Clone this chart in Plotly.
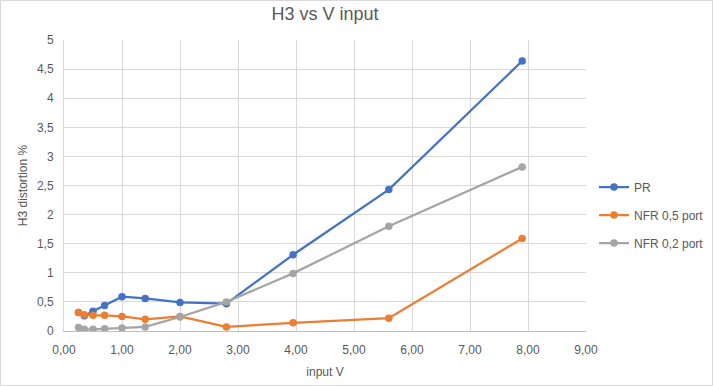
import plotly.graph_objects as go

x_vals = [0.25, 0.35, 0.5, 0.7, 1.0, 1.4, 2.0, 2.8, 3.95, 5.6, 7.9]
pr = [0.32, 0.26, 0.34, 0.44, 0.59, 0.56, 0.49, 0.47, 1.31, 2.43, 4.64]
nfr05 = [0.32, 0.28, 0.27, 0.27, 0.25, 0.20, 0.25, 0.07, 0.14, 0.22, 1.59]
nfr02 = [0.06, 0.03, 0.03, 0.04, 0.05, 0.07, 0.24, 0.50, 0.99, 1.80, 2.82]

series_names = ["PR", "NFR 0,5 port", "NFR 0,2 port"]
colors = ["#4472C4", "#ED7D31", "#A5A5A5"]

x_tickvals = [0, 1, 2, 3, 4, 5, 6, 7, 8, 9]
x_ticktext = ["0,00", "1,00", "2,00", "3,00", "4,00", "5,00", "6,00", "7,00", "8,00", "9,00"]
y_tickvals = [0, 0.5, 1, 1.5, 2, 2.5, 3, 3.5, 4, 4.5, 5]
y_ticktext = ["0", "0,5", "1", "1,5", "2", "2,5", "3", "3,5", "4", "4,5", "5"]

FONT = "Liberation Sans Narrow, Arial Narrow, sans-serif"
GREY = "#595959"

fig = go.Figure()
for name, ys, c in zip(series_names, [pr, nfr05, nfr02], colors):
    fig.add_trace(go.Scatter(
        x=x_vals, y=ys, name=name, mode="lines+markers",
        line=dict(color=c, width=2.25),
        marker=dict(color=c, size=7.5),
        legendgroup=name,
    ))

W, H = 713, 386
L, R, T, B = 64, 127, 40, 55
pw, ph = W - L - R, H - T - B

fig.update_layout(
    width=W, height=H,
    margin=dict(l=L, r=R, t=T, b=B, autoexpand=False),
    paper_bgcolor="white", plot_bgcolor="white",
    font=dict(family=FONT, size=12, color=GREY),
    title=dict(text="H3 vs V input", x=0.5, xref="paper", xanchor="center",
               y=1 - 14 / H, yanchor="middle",
               font=dict(family=FONT, size=18, color=GREY)),
    showlegend=True,
    legend=dict(x=(594 - L) / pw, y=(331 - 215) / ph, xanchor="left", yanchor="middle",
                font=dict(family=FONT, size=12, color=GREY),
                tracegroupgap=9, traceorder="grouped", bgcolor="rgba(0,0,0,0)"),
    xaxis=dict(range=[0, 9], tickvals=x_tickvals, ticktext=x_ticktext,
               showgrid=True, gridcolor="#D9D9D9", gridwidth=1,
               zeroline=False, showline=True, linecolor="#BFBFBF", linewidth=1,
               ticks="", automargin=False, ticklabelstandoff=8,
               title=dict(text="input V", font=dict(family=FONT, size=12, color=GREY), standoff=11),
               tickfont=dict(family=FONT, size=12, color=GREY)),
    yaxis=dict(range=[0, 5], tickvals=y_tickvals, ticktext=y_ticktext,
               showgrid=True, gridcolor="#D9D9D9", gridwidth=1,
               zeroline=False, showline=True, linecolor="#D9D9D9", linewidth=1,
               ticks="", automargin=False, ticklabelstandoff=7,
               title=dict(text="H3 distortion %", font=dict(family=FONT, size=12, color=GREY), standoff=6),
               tickfont=dict(family=FONT, size=12, color=GREY)),
)

fig.add_shape(type="rect", xref="paper", yref="paper",
              x0=(-L + 0.5) / pw, x1=(W - L - 0.5) / pw,
              y0=(-B + 0.5) / ph, y1=(H - B - 0.5) / ph,
              line=dict(color="#D9D9D9", width=1), layer="below")

fig.write_html("out.html", config={"displayModeBar": False},
               post_script="document.body.style.margin='0';document.body.style.overflow='hidden';")
